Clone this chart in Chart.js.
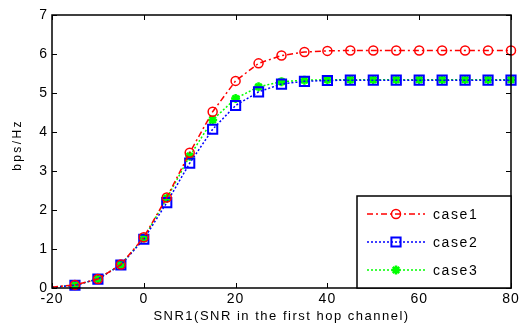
<!DOCTYPE html>
<html>
<head>
<meta charset="utf-8">
<script src="https://cdn.jsdelivr.net/npm/chart.js@4.4.0/dist/chart.umd.min.js"></script>
<style>
  html, body { margin: 0; padding: 0; background: #fff; }
  #wrap { width: 526px; height: 324px; }
</style>
</head>
<body>
<div id="wrap"><canvas id="grafica" width="526" height="324"></canvas></div>
<script>
// datos
const snr = [-20, -15, -10, -5, 0, 5, 10, 15, 20, 25, 30, 35, 40, 45, 50, 55, 60, 65, 70, 75, 80];
const case1 = [0.02, 0.08, 0.23, 0.6, 1.3, 2.32, 3.47, 4.52, 5.31, 5.76, 5.96, 6.05, 6.08, 6.09, 6.09, 6.09, 6.09, 6.09, 6.09, 6.09, 6.09];
const case2 = [0.02, 0.07, 0.23, 0.59, 1.25, 2.19, 3.2, 4.07, 4.68, 5.03, 5.23, 5.3, 5.32, 5.33, 5.33, 5.33, 5.33, 5.33, 5.33, 5.33, 5.33];
const case3 = [0.02, 0.07, 0.23, 0.6, 1.28, 2.3, 3.38, 4.31, 4.86, 5.16, 5.29, 5.33, 5.34, 5.34, 5.34, 5.34, 5.34, 5.34, 5.34, 5.34, 5.34];
const xTicks = [-20, 0, 20, 40, 60, 80];
const yTicks = [0, 1, 2, 3, 4, 5, 6, 7];
const nombres = ['case1', 'case2', 'case3'];
const tituloX = 'SNR1(SNR in the first hop channel)';
const tituloY = 'bps/Hz';

function puntos(serie) {
    return snr.map((x, i) => ({ x: x, y: serie[i] }));
}
// sin marcador en el primer punto (x = -20)
function radios(r) {
    return snr.map((x, i) => i === 0 ? 0 : r);
}

const fuente = 'Liberation Sans, Arial, Helvetica, sans-serif';

// texto algo ensanchado, como en la figura
const espaciado = {
    id: 'espaciado',
    beforeDraw(chart) { chart.ctx.letterSpacing = '1px'; },
    afterDraw(chart) { chart.ctx.letterSpacing = '0px'; }
};

// ticks hacia adentro en los cuatro lados + caja + titulos
const marcoPlugin = {
    id: 'marco',
    afterDraw(chart) {
        const ctx = chart.ctx;
        const a = chart.chartArea;
        const sx = chart.scales.x, sy = chart.scales.y;
        ctx.save();
        ctx.strokeStyle = '#000';
        ctx.lineWidth = 1;
        ctx.beginPath();
        xTicks.forEach(v => {
            const px = Math.round(sx.getPixelForValue(v)) + 0.5;
            ctx.moveTo(px, a.bottom); ctx.lineTo(px, a.bottom - 5);
            ctx.moveTo(px, a.top); ctx.lineTo(px, a.top + 5);
        });
        yTicks.forEach(v => {
            const py = Math.round(sy.getPixelForValue(v)) + 0.5;
            ctx.moveTo(a.left, py); ctx.lineTo(a.left + 5, py);
            ctx.moveTo(a.right, py); ctx.lineTo(a.right - 5, py);
        });
        ctx.stroke();
        ctx.lineWidth = 1.5;
        ctx.strokeRect(a.left, a.top, a.right - a.left, a.bottom - a.top);

        ctx.fillStyle = '#000';
        ctx.textAlign = 'center';
        ctx.textBaseline = 'middle';
        ctx.font = '13px ' + fuente;
        ctx.letterSpacing = '1.5px';
        ctx.fillText(tituloX, (a.left + a.right) / 2, 316);
        ctx.save();
        ctx.translate(18, 146);
        ctx.rotate(-Math.PI / 2);
        ctx.font = '12px ' + fuente;
        ctx.letterSpacing = '2.4px';
        ctx.fillText(tituloY, 1, 0);
        ctx.restore();
        ctx.restore();
    }
};

// leyenda dentro del area, abajo a la derecha
const leyendaPlugin = {
    id: 'leyendaDentro',
    afterDraw(chart) {
        const ctx = chart.ctx;
        const a = chart.chartArea;
        const w = 154, h = 92;
        const x0 = a.right - w, y0 = a.bottom - h;
        ctx.save();
        ctx.fillStyle = '#fff';
        ctx.fillRect(x0, y0, w, h);
        ctx.strokeStyle = '#000';
        ctx.lineWidth = 1.5;
        ctx.strokeRect(x0, y0, w, h);
        chart.data.datasets.forEach((ds, i) => {
            const yy = y0 + 18 + i * 28;
            ctx.save();
            ctx.strokeStyle = ds.borderColor;
            ctx.lineWidth = ds.borderWidth;
            ctx.setLineDash(ds.borderDash || []);
            ctx.beginPath();
            ctx.moveTo(x0 + 10, yy);
            ctx.lineTo(x0 + 68, yy);
            ctx.stroke();
            ctx.setLineDash([]);
            ctx.lineWidth = ds.pointBorderWidth;
            ctx.fillStyle = ds.pointBackgroundColor;
            ctx.strokeStyle = ds.pointBorderColor;
            Chart.helpers.drawPoint(ctx, {
                pointStyle: ds.pointStyle,
                radius: ds.pointRadius[1],
                borderWidth: ds.pointBorderWidth
            }, x0 + 39, yy);
            ctx.restore();
            ctx.fillStyle = '#000';
            ctx.font = '14px ' + fuente;
            ctx.letterSpacing = '1.6px';
            ctx.textBaseline = 'middle';
            ctx.fillText(nombres[i], x0 + 76, yy + 1);
        });
        ctx.restore();
    }
};

new Chart(document.getElementById('grafica'), {
    type: 'line',
    data: {
        datasets: [{
            label: nombres[0],
            data: puntos(case1),
            borderColor: '#ff0000',
            backgroundColor: 'rgba(0,0,0,0)',
            borderWidth: 1.5,
            borderDash: [6, 3, 2, 3],
            pointStyle: 'circle',
            pointRadius: radios(4.5),
            pointBorderWidth: 1.5,
            pointBorderColor: '#ff0000',
            pointBackgroundColor: 'rgba(0,0,0,0)'
        }, {
            label: nombres[1],
            data: puntos(case2),
            borderColor: '#0000ff',
            backgroundColor: 'rgba(0,0,0,0)',
            borderWidth: 1.5,
            borderDash: [2, 2],
            pointStyle: 'rect',
            pointRadius: radios(6.5),
            pointBorderWidth: 2,
            pointBorderColor: '#0000ff',
            pointBackgroundColor: 'rgba(0,0,0,0)'
        }, {
            label: nombres[2],
            data: puntos(case3),
            borderColor: '#00ff00',
            backgroundColor: 'rgba(0,0,0,0)',
            borderWidth: 1.5,
            borderDash: [2, 2],
            pointStyle: 'star',
            pointRadius: radios(4.5),
            pointBorderWidth: 2.5,
            pointBorderColor: '#00ff00',
            pointBackgroundColor: '#00ff00'
        }]
    },
    options: {
        responsive: false,
        animation: false,
        devicePixelRatio: 1,
        clip: false,
        layout: { padding: { top: 15, right: 15, left: 0, bottom: 0 } },
        plugins: {
            legend: { display: false },
            tooltip: { enabled: false }
        },
        scales: {
            x: {
                type: 'linear',
                min: -20, max: 80,
                afterBuildTicks: s => { s.ticks = xTicks.map(v => ({ value: v })); },
                afterFit: s => { s.height = 36; },
                grid: { display: false, drawTicks: false },
                border: { display: false },
                ticks: { color: '#000', font: { family: fuente, size: 14 }, padding: 3, maxRotation: 0 }
            },
            y: {
                min: 0, max: 7,
                afterBuildTicks: s => { s.ticks = yTicks.map(v => ({ value: v })); },
                afterFit: s => { s.width = 52; },
                grid: { display: false, drawTicks: false },
                border: { display: false },
                ticks: { color: '#000', font: { family: fuente, size: 14 }, padding: 4 }
            }
        }
    },
    plugins: [espaciado, marcoPlugin, leyendaPlugin]
});
</script>
</body>
</html>
